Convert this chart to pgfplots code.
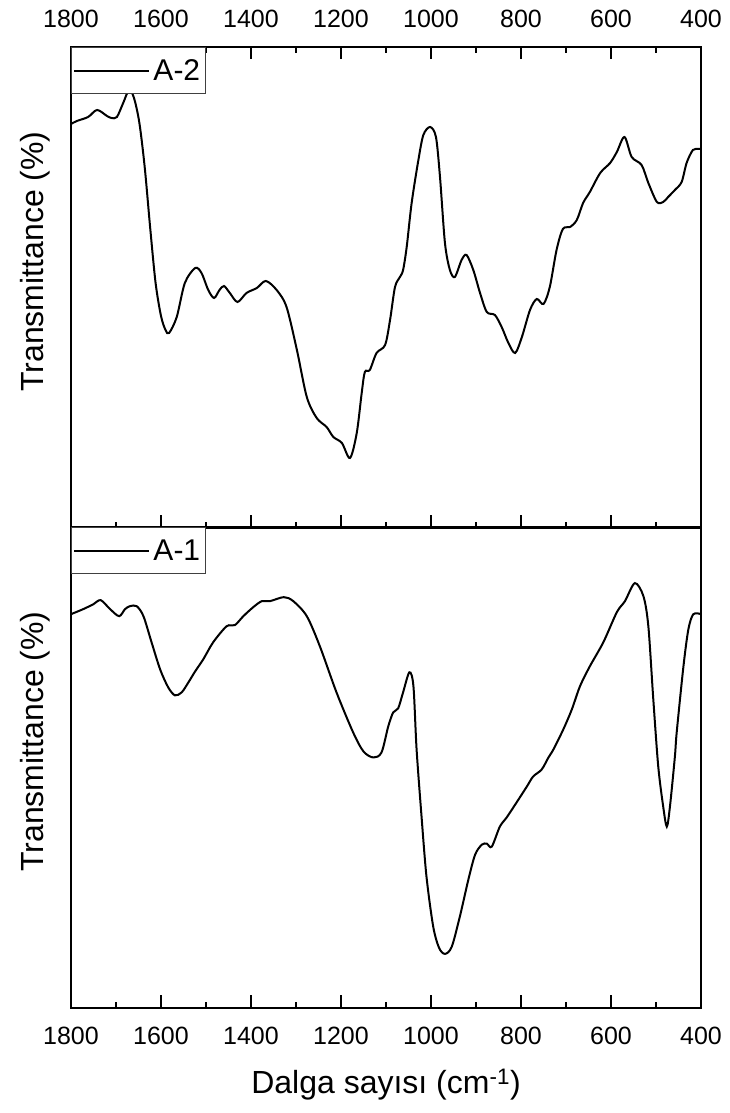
\documentclass[border=0pt]{standalone}
\usepackage{fontspec}
\setmainfont{Liberation Sans}
\usepackage{pgfplots}
\usepackage{pgfplotstable}
\pgfplotsset{compat=1.18}

% FTIR spectra, wavenumber (cm^-1) vs. transmittance (arbitrary units)
\pgfplotstableread{
wn T
1800 404
1787 407
1762 411
1742 418
1720 412
1710 410
1698 411
1684 425
1671 438
1660 430
1648 405
1636 360
1624 300
1612 245
1600 212
1590 198
1582 195
1565 211
1547 245
1524 260
1510 255
1495 238
1482 230
1470 238
1460 242
1447 235
1430 226
1410 235
1387 240
1367 247
1343 238
1321 221
1298 178
1276 131
1254 110
1232 101
1217 91
1198 85
1180 70
1165 95
1154 135
1147 156
1136 158
1121 175
1102 183
1091 208
1080 241
1069 251
1062 258
1054 281
1043 325
1028 368
1017 393
1002 401
989 391
980 351
969 285
958 258
947 251
932 268
921 273
906 258
891 235
876 216
858 213
843 201
828 185
813 175
798 191
780 218
765 229
750 224
736 241
721 278
707 299
691 301
676 308
662 325
647 336
624 355
602 365
587 376
570 391
554 371
532 363
517 345
498 326
484 326
473 331
458 338
443 346
432 365
418 378
405 379
400 379
}\spectrumAtwo

\pgfplotstableread{
wn T
1800 393
1773 398
1750 403
1734 407
1713 398
1693 391
1680 398
1669 401
1654 401
1639 391
1621 365
1602 338
1584 320
1569 312
1554 315
1539 325
1524 336
1506 348
1484 365
1454 381
1436 382
1417 391
1395 400
1376 406
1358 406
1327 410
1306 406
1276 391
1247 361
1210 315
1173 275
1150 256
1128 250
1110 255
1095 281
1084 295
1073 299
1062 315
1048 335
1039 321
1032 258
1021 191
1010 131
995 81
982 60
969 54
954 61
936 91
917 128
902 153
887 163
876 164
865 161
847 181
832 190
810 205
787 221
773 231
754 238
739 250
728 258
706 278
687 298
669 321
647 341
617 365
587 395
569 406
547 424
528 411
517 381
506 308
495 241
484 201
476 181
469 201
458 251
454 275
439 341
428 378
417 393
400 393
}\spectrumAone

\pgfplotsset{
  spectrum/.style={
    scale only axis, width=630pt, height=481pt,
    x dir=reverse, xmin=400, xmax=1800, ymin=0, ymax=481,
    xtick={400,600,...,1800}, minor x tick num=1,
    ytick=\empty,
    tick align=inside,
    major tick length=12.5pt, minor tick length=6.3pt,
    axis line style={line width=1.5pt},
    every tick/.append style={line width=1.5pt, black},
    /pgf/number format/assume math mode=true,
    /pgf/number format/1000 sep={},
    tick label style={font=\fontsize{25}{30}\selectfont},
    ylabel={Transmittance (\%)},
    every axis y label/.style={at={(axis description cs:-0.057,0.554)},
      rotate=90, anchor=center, font=\fontsize{32}{38}\selectfont},
    legend style={at={(0,1)}, anchor=north west, draw=black!75,
      line width=1pt, font=\fontsize{30}{34}\selectfont,
      inner xsep=2pt, inner ysep=10pt, nodes={inner xsep=3pt, inner ysep=2pt}},
    legend cell align=left,
    legend image code/.code={
      \draw[#1, line width=1.8pt] (0pt,0pt) -- (71pt,0pt);
      \path (0pt,0pt) -- (75pt,0pt);},
  },
  curve/.style={black, line width=2pt, smooth, tension=0.5},
}

\begin{document}
\begin{tikzpicture}[x=1pt,y=1pt]
\useasboundingbox (0,0) rectangle (730,1113);

\begin{axis}[spectrum,
  at={(71pt,585pt)}, anchor=south west,
  xtick pos=both, xticklabel pos=upper,
  xticklabel style={yshift=16pt}]
\addplot[curve] table[x=wn, y=T] {\spectrumAtwo};
\addlegendentry{A-2}
\end{axis}

\begin{axis}[spectrum,
  at={(71pt,105pt)}, anchor=south west, ymax=480,
  xtick pos=lower, xticklabel pos=lower,
  xticklabel style={yshift=-16pt},
  xlabel={Dalga sayısı (cm\textsuperscript{-1})},
  every axis x label/.style={at={(axis description cs:0.5,-0.16)},
    anchor=center, font=\fontsize{32}{38}\selectfont}]
\addplot[curve] table[x=wn, y=T] {\spectrumAone};
\addlegendentry{A-1}
\end{axis}
\end{tikzpicture}
\end{document}
